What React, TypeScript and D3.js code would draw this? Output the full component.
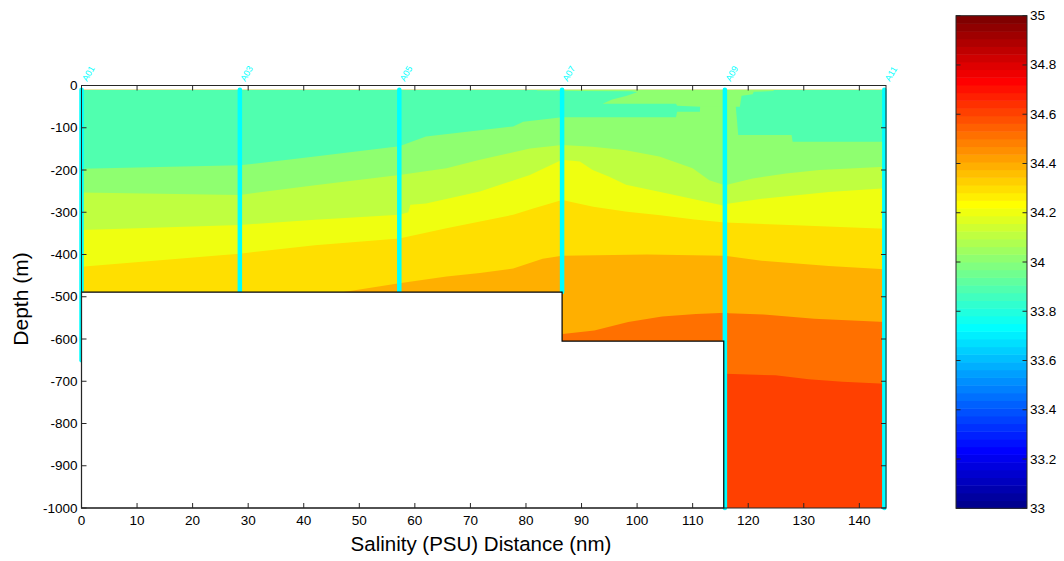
import React from 'react';
import * as d3 from 'd3';

// ---------- data ----------
const stationNames = ['A01', 'A03', 'A05', 'A07', 'A09', 'A11'];
const stationNm = [0, 28.5, 57.2, 86.5, 115.8, 144.5];
const stationMaxDepth = [650, 489, 489, 489, 1000, 1000];

const xTicks = [0, 10, 20, 30, 40, 50, 60, 70, 80, 90, 100, 110, 120, 130, 140];
const yTicks = [0, 100, 200, 300, 400, 500, 600, 700, 800, 900, 1000];
const cbTicks = [33, 33.2, 33.4, 33.6, 33.8, 34, 34.2, 34.4, 34.6, 34.8, 35];

// isohaline depths (m) along the section: [distance nm, depth m]
const iso340: [number, number][] = [[0, 197], [14, 193], [28.5, 189], [42, 168], [57.2, 144], [62, 121], [77.7, 97], [79.5, 86], [86.5, 75], [107, 75], [107.2, 62], [111.3, 62], [111.5, -20], [117.5, -20], [118.2, 117], [127.8, 117], [128, 133], [144.8, 133]];
const iso341: [number, number][] = [[0, 253], [28.5, 259], [42, 236], [57.2, 212], [65.7, 196], [71.7, 176], [80.7, 149], [86.5, 141], [92, 145], [98, 153], [104, 168], [110, 196], [113, 224], [115.8, 236], [120.8, 220], [126.8, 208], [132.8, 200], [144.8, 192]];
const iso342: [number, number][] = [[0, 342], [28.5, 330], [42, 318], [57.2, 306], [58.8, 300], [59.2, 282], [62, 279], [71.7, 251], [80.7, 212], [86.5, 176], [89.7, 180], [92, 200], [95, 216], [98, 235], [104.2, 252], [115.5, 284], [116.3, 280], [122.4, 268], [134.5, 252], [144.8, 243]];
const iso343: [number, number][] = [[0, 429], [28.5, 398], [42, 378], [57.2, 362], [65.7, 338], [77.7, 306], [81.3, 291], [86.5, 271], [92.1, 287], [98.2, 299], [104.2, 307], [110.3, 317], [115.8, 324], [128.5, 331], [144.8, 339]];
const iso344: [number, number][] = [[0, 560], [30, 520], [46.6, 490], [57.2, 468], [65.7, 452], [71.7, 444], [77.7, 433], [83, 410], [86.5, 403], [101.8, 400], [115.8, 403], [122.4, 415], [134.5, 427], [144.8, 435]];
const iso345: [number, number][] = [[0, 700], [86, 700], [86.6, 588], [92.3, 580], [98.4, 560], [104.5, 547], [110.6, 541], [116.1, 538], [116.5, 539], [122.8, 542], [131.9, 552], [144.8, 560]];
const iso346: [number, number][] = [[0, 800], [115, 800], [115.9, 682], [124.9, 686], [130.9, 695], [137, 701], [144.8, 706]];

// surface lens of 34.0-34.1 water
const lens340: [number, number][] = [[82, 10], [124.7, 10], [124.5, 13], [121, 15], [120.8, 21], [118.8, 24], [118.5, 50], [111.5, 50], [107.2, 48], [107, 43], [93.8, 43], [95.5, 33], [98, 25], [100, 16], [99, 13.5], [90, 13], [82, 12]];

// sea floor
const bottomPatch: [number, number][] = [[0, 489], [86.5, 489], [86.5, 605], [115.6, 605], [115.6, 1000], [0, 1000]];

const dataTop = 10;

// ---------- helpers ----------
function jetColor(v: number): string {
  let idx = Math.floor(((v - 33) / 2) * 64 + 1e-9);
  idx = Math.max(0, Math.min(63, idx));
  const i = idx + 1;
  const c = (t: number) => Math.max(0, Math.min(1, t));
  const r = c(Math.min((i - 24) / 16, (72 - i) / 16));
  const g = c(Math.min((i - 8) / 16, (56 - i) / 16));
  const b = c(Math.min((i + 8) / 16, (40 - i) / 16));
  return d3.rgb(Math.round(r * 255), Math.round(g * 255), Math.round(b * 255)).formatHex();
}

const FONT = "'Liberation Sans', Arial, Helvetica, sans-serif";

export default function App() {
  const x = d3.scaleLinear().domain([0, 144.8]).range([81.5, 886]);
  const y = d3.scaleLinear().domain([0, 1000]).range([85.5, 508]);
  const cb = d3.scaleLinear().domain([33, 35]).range([508.3, 15.7]);

  const clampD = (d: number) => Math.max(dataTop, Math.min(1000, d));
  const areaTop = d3
    .area<[number, number]>()
    .x((d) => x(d[0]))
    .y0(y(dataTop))
    .y1((d) => y(clampD(d[1])));
  const poly = d3
    .line<[number, number]>()
    .x((d) => x(d[0]))
    .y((d) => y(d[1]));

  const layers: { iso: [number, number][]; level: number }[] = [
    { iso: iso346, level: 34.5 },
    { iso: iso345, level: 34.4 },
    { iso: iso344, level: 34.3 },
    { iso: iso343, level: 34.2 },
    { iso: iso342, level: 34.1 },
    { iso: iso341, level: 34.0 },
    { iso: iso340, level: 33.9 },
  ];

  const cbBands = d3.range(64).map((i) => 33 + (i * 2) / 64);

  const x0 = x(0), x1 = x(144.8), y0 = y(0), y1 = y(1000);
  const dataRight = x(stationNm[stationNm.length - 1]);

  return (
    <svg
      width={1064}
      height={561}
      style={{ position: 'absolute', left: 0, top: 0, background: '#fff' }}
      fontFamily={FONT}
    >
      <defs>
        <clipPath id="dataClip">
          <rect x={x0} y={y(dataTop)} width={dataRight - x0} height={y1 - y(dataTop)} />
        </clipPath>
      </defs>
      <rect x={0} y={0} width={1064} height={561} fill="#fff" />

      <g clipPath="url(#dataClip)">
        <rect x={x0} y={y(dataTop)} width={dataRight - x0} height={y1 - y(dataTop)} fill={jetColor(34.6)} />
        {layers.map((l, i) => (
          <path key={i} d={areaTop(l.iso) || ''} fill={jetColor(l.level)} />
        ))}
        <path d={(poly(lens340) || '') + 'Z'} fill={jetColor(34.0)} />
      </g>

      {/* station casts */}
      {stationNm.map((s, i) => (
        <line
          key={'st' + i}
          x1={x(s)}
          x2={x(s)}
          y1={y(dataTop)}
          y2={y(stationMaxDepth[i])}
          stroke="#00ffff"
          strokeWidth={4.5}
          strokeLinecap="round"
        />
      ))}

      {/* sea floor */}
      <path d={(poly(bottomPatch) || '') + 'Z'} fill="#fff" stroke="#000" strokeWidth={1.2} />

      {/* station names */}
      {stationNm.map((s, i) => (
        <text
          key={'sn' + i}
          transform={`translate(${x(s) + 5.5},${82}) rotate(-60)`}
          fontSize={9}
          fill="#00ffff"
        >
          {stationNames[i]}
        </text>
      ))}

      {/* axes box */}
      <rect x={x0} y={y0} width={x1 - x0} height={y1 - y0} fill="none" stroke="#262626" strokeWidth={1} />
      {xTicks.map((t) => (
        <g key={'xt' + t}>
          <line x1={x(t)} x2={x(t)} y1={y1} y2={y1 - 5} stroke="#262626" />
          <line x1={x(t)} x2={x(t)} y1={y0} y2={y0 + 5} stroke="#262626" />
          <text x={x(t)} y={y1 + 17} fontSize={13.5} textAnchor="middle" fill="#000">
            {t}
          </text>
        </g>
      ))}
      {yTicks.map((t) => (
        <g key={'yt' + t}>
          <line x1={x0} x2={x0 + 5} y1={y(t)} y2={y(t)} stroke="#262626" />
          <line x1={x1} x2={x1 - 5} y1={y(t)} y2={y(t)} stroke="#262626" />
          <text x={x0 - 4} y={y(t) + 4.5} fontSize={13.5} textAnchor="end" fill="#000">
            {t === 0 ? '0' : `-${t}`}
          </text>
        </g>
      ))}

      <text x={481} y={551} fontSize={20.5} textAnchor="middle" fill="#000">
        Salinity (PSU) Distance (nm)
      </text>
      <text transform="translate(28,299) rotate(-90)" fontSize={21} textAnchor="middle" fill="#000">
        Depth (m)
      </text>

      {/* colorbar */}
      {cbBands.map((v, i) => (
        <rect
          key={'cb' + i}
          x={956}
          y={cb(v + 2 / 64)}
          width={71}
          height={cb(v) - cb(v + 2 / 64) + 0.5}
          fill={jetColor(v + 1 / 128)}
        />
      ))}
      <rect x={956} y={cb(35)} width={71} height={cb(33) - cb(35)} fill="none" stroke="#262626" />
      {cbTicks.map((t) => (
        <g key={'cbt' + t}>
          <line x1={956} x2={960.5} y1={cb(t)} y2={cb(t)} stroke="#262626" />
          <line x1={1027} x2={1022.5} y1={cb(t)} y2={cb(t)} stroke="#262626" />
          <text x={1030} y={cb(t) + 4.5} fontSize={13.5} fill="#000">
            {d3.format('~g')(t)}
          </text>
        </g>
      ))}
    </svg>
  );
}
